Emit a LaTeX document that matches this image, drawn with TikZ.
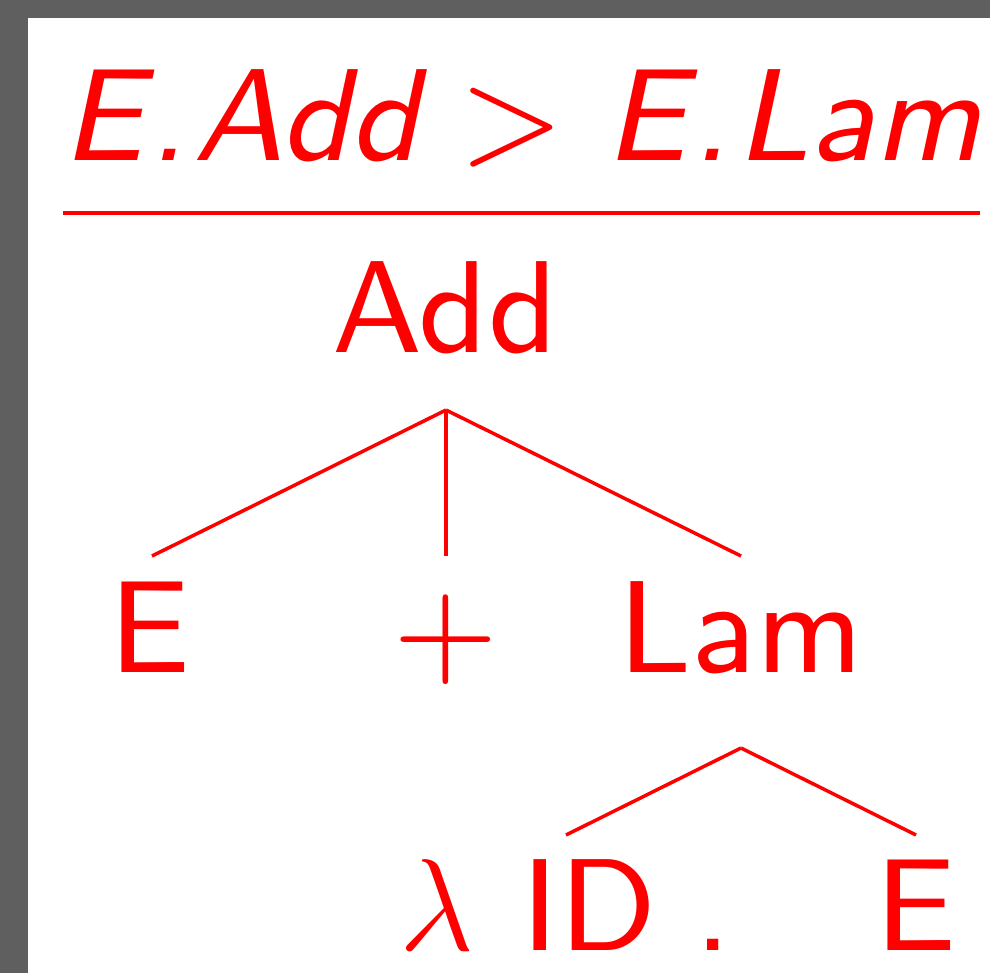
\documentclass[tikz,border=0pt]{standalone}
\usepackage{fix-cm}
\usepackage{fontspec}
\setsansfont{lmsans9-regular.otf}[ItalicFont=lmsans9-oblique.otf]
\definecolor{framegray}{RGB}{95,95,95}
\definecolor{tred}{RGB}{255,0,0}
\tikzset{
  lbl/.style={text=tred, font=\sffamily\fontsize{131bp}{150bp}\selectfont, inner sep=0pt, anchor=base},
  ttl/.style={text=tred, font=\sffamily\itshape\fontsize{131bp}{150bp}\selectfont, inner sep=0pt, anchor=base},
  edge/.style={draw=tred, line width=3.5bp}
}
\begin{document}
\begin{tikzpicture}[x=1bp,y=-1bp]
\useasboundingbox (0,0) rectangle (990,973);
\fill[framegray] (0,0) rectangle (990,973);
\fill[white] (28,18) rectangle (990,973);
% title and rule
\node[ttl] (title) at (522,160) {E\kern0.05em.\kern0.05em Add\kern0.31em\upshape\textgreater\kern0.31em\itshape E\kern0.05em.\kern0.05em Lam};
\coordinate (ruleL) at (63,213);
\coordinate (ruleR) at (980,213);
\draw[edge] (ruleL) -- (ruleR);
% tree
\node[lbl] (add) at (445,352) {Add};
\node[lbl] (e1) at (150,672) {E};
\node[lbl] (plus) at (446,672) {+};
\node[lbl] (lam) at (741,672) {Lam};
\node[lbl] (lambda) at (437,950) {$\lambda$};
\node[lbl] (id) at (589,950) {ID};
\node[lbl] (dot) at (713,950) {.};
\node[lbl] (e2) at (916,950) {E};
\coordinate (addA) at (446,410);
\coordinate (e1T) at (152,556);
\coordinate (plusT) at (446,556);
\coordinate (lamT) at (741,556);
\coordinate (lamA) at (741,748);
\coordinate (idT) at (566,835);
\coordinate (e2T) at (916,835);
\draw[edge] (addA) -- (e1T);
\draw[edge] (addA) -- (plusT);
\draw[edge] (addA) -- (lamT);
\draw[edge] (lamA) -- (idT);
\draw[edge] (lamA) -- (e2T);
\end{tikzpicture}
\end{document}
